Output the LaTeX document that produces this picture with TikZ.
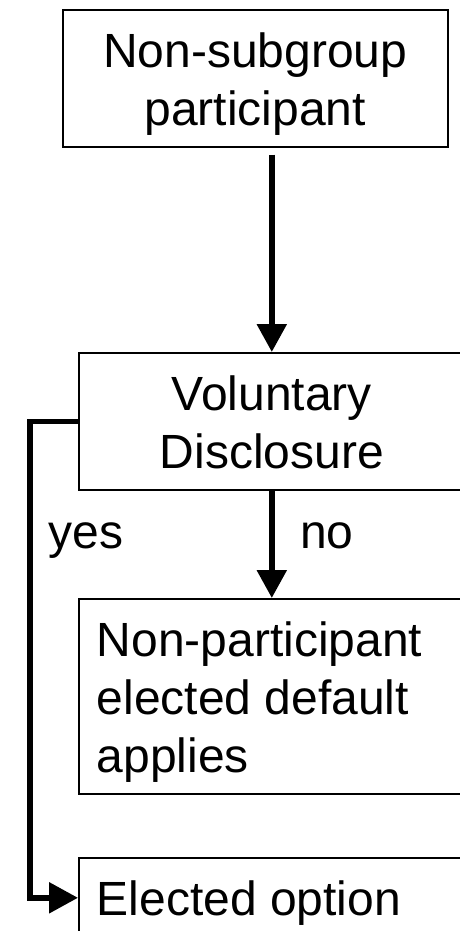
\documentclass[tikz,border=0pt]{standalone}
\usepackage{fontspec}
\setmainfont{Liberation Sans}
\usetikzlibrary{arrows.meta,calc}
\begin{document}
\begin{tikzpicture}[x=1pt,y=-1pt,
  box/.style={draw, line width=1.6pt, inner sep=0pt, anchor=north west,
    font=\fontsize{48}{58}\selectfont},
  cbox/.style={box, minimum width=386pt, align=center},
  lbox/.style={box, text width=350pt, inner xsep=18pt, align=flush left},
  conn/.style={line width=5.5pt, -{Triangle[width=29pt,length=28pt]}},
  lbl/.style={inner sep=0pt, anchor=base west, font=\fontsize{48}{58}\selectfont}]
\clip (0,0) rectangle (460,931);
\node[cbox, minimum width=385pt, text height=116pt, text depth=21pt] (b1) at (62,9) {Non-subgroup\\participant};
\node[cbox, text height=116pt, text depth=21pt] (b2) at (78,352) {Voluntary\\Disclosure};
\node[lbox, text height=58pt, text depth=137pt] (b3) at (78,598) {Non-participant\\elected default\\applies};
\node[lbox, text height=58pt, text depth=22pt] (b4) at (78,857) {Elected option};
\node[lbl] (yes) at (48.5,548) {yes};
\node[lbl] (no) at (300,548) {no};
\coordinate (s1) at ($(b1.south -| b2.north)+(0,7)$);
\draw[conn] (s1) -- (b2.north);
\draw[conn] (b2.south) -- (b3.north);
\draw[conn, -{Triangle[width=30pt,length=29pt]}] (b2.west) -- ++(-48,0) |- (b4.west);
\end{tikzpicture}
\end{document}
